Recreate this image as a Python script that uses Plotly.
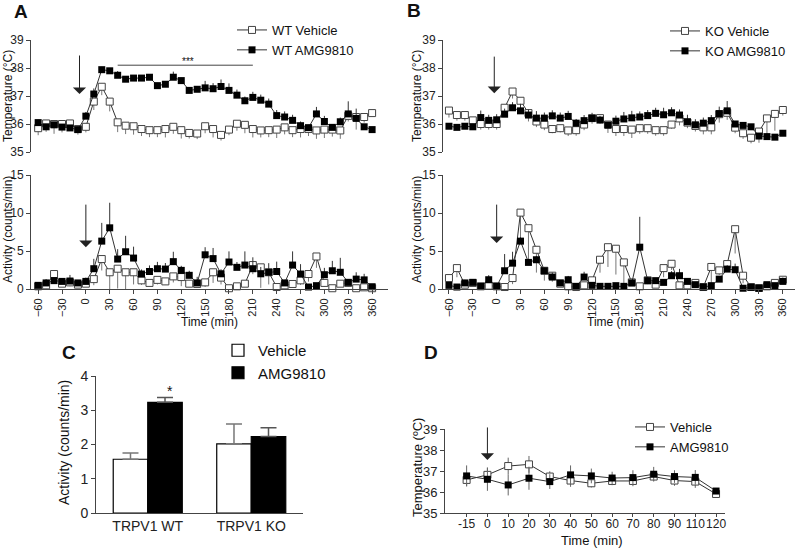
import plotly.graph_objects as go

# ---------------- DATA ----------------
time_min = [-60, -50, -40, -30, -20, -10, 0, 10, 20, 30, 40, 50, 60, 70, 80, 90, 100,
            110, 120, 130, 140, 150, 160, 170, 180, 190, 200, 210, 220, 230, 240, 250,
            260, 270, 280, 290, 300, 310, 320, 330, 340, 350, 360]
time_ticks = [-60, -30, 0, 30, 60, 90, 120, 150, 180, 210, 240, 270, 300, 330, 360]

# Panel A - WT temperature
wt_veh_temp = [35.85, 36.02, 36.0, 36.0, 36.02, 35.82, 35.9, 36.8, 37.33, 36.8, 36.06, 35.94, 35.92,
               35.82, 35.78, 35.78, 35.82, 35.9, 35.78, 35.68, 35.66, 35.92, 35.82, 35.61, 35.8,
               36.01, 35.97, 35.82, 35.77, 35.78, 35.8, 35.88, 35.78, 35.82, 35.82, 35.77, 35.8,
               35.8, 35.77, 36.29, 36.25, 36.25, 36.39]
wt_veh_temp_err = [0.25, 0.3, 0.35, 0.3, 0.25, 0.2, 0.2, 0.3, 0.3, 0.35, 0.35, 0.3, 0.3, 0.25, 0.25,
                   0.25, 0.3, 0.25, 0.3, 0.2, 0.2, 0.25, 0.3, 0.2, 0.2, 0.25, 0.3, 0.3, 0.25, 0.25,
                   0.3, 0.25, 0.25, 0.3, 0.25, 0.3, 0.3, 0.25, 0.3, 0.2, 0.45, 0.2, 0.1]
wt_amg_temp = [36.05, 35.9, 35.97, 35.89, 35.86, 35.8, 36.28, 37.07, 37.94, 37.9, 37.74, 37.6, 37.64,
               37.64, 37.67, 37.37, 37.42, 37.67, 37.55, 37.2, 37.24, 37.29, 37.26, 37.34, 37.2,
               37.03, 36.83, 36.95, 36.85, 36.71, 36.3, 36.25, 36.13, 35.94, 35.87, 36.36, 36.09,
               35.88, 36.08, 36.36, 36.2, 35.9, 35.8]
wt_amg_temp_err = [0.1, 0.1, 0.1, 0.1, 0.1, 0.1, 0.15, 0.2, 0.1, 0.1, 0.15, 0.1, 0.1, 0.1, 0.1, 0.1,
                   0.1, 0.2, 0.1, 0.1, 0.1, 0.25, 0.2, 0.25, 0.25, 0.2, 0.15, 0.2, 0.2, 0.2, 0.2,
                   0.2, 0.2, 0.15, 0.1, 0.25, 0.2, 0.1, 0.15, 0.45, 0.35, 0.1, 0.1]

# Panel A - WT activity
wt_veh_act = [0.35, 0.48, 1.97, 0.7, 0.87, 0.57, 0.7, 1.3, 3.94, 2.2, 2.67, 2.2, 2.2, 1.14, 0.8,
              1.2, 1.0, 1.66, 1.57, 0.7, 0.66, 0.87, 2.2, 1.5, 0.1, 0.35, 0.7, 3.15, 2.85, 2.2,
              0.26, 0.48, 0.66, 1.14, 1.97, 4.28, 0.8, 0.1, 0.7, 0.8, 0.1, 0.22, 0.1]
wt_veh_act_err = [0.3, 0.4, 1.2, 0.4, 0.5, 0.4, 0.4, 0.8, 1.5, 2.2, 2.6, 2.2, 1.6, 0.6, 0.4, 0.6,
                  0.4, 0.8, 1.2, 0.4, 0.4, 0.6, 1.4, 0.9, 0.1, 0.2, 0.4, 1.2, 2.7, 1.6, 0.2, 0.3,
                  0.4, 0.6, 1.0, 1.5, 0.5, 0.1, 0.4, 0.5, 0.1, 0.1, 0.1]
wt_amg_act = [0.48, 0.8, 1.1, 1.0, 1.05, 0.8, 1.0, 2.67, 6.3, 8.05, 3.94, 4.9, 4.07, 1.97, 2.3,
              2.67, 2.62, 3.6, 2.45, 1.8, 0.8, 4.5, 4.0, 2.0, 3.55, 2.85, 3.15, 2.67, 2.0, 2.2,
              2.3, 0.8, 3.15, 1.97, 0.26, 0.44, 1.88, 2.4, 2.2, 0.87, 1.3, 1.2, 0.3]
wt_amg_act_err = [0.1, 0.5, 0.4, 0.3, 0.8, 0.2, 0.5, 1.3, 2.4, 3.3, 1.3, 2.1, 1.5, 0.6, 0.8, 0.9,
                  0.8, 1.3, 0.6, 0.6, 0.8, 1.0, 1.4, 0.6, 1.4, 0.7, 1.8, 1.5, 0.9, 1.2, 1.3, 0.4,
                  1.8, 1.3, 0.2, 0.2, 0.9, 1.3, 1.9, 0.4, 0.9, 0.8, 0.1]

# Panel B - KO temperature
ko_veh_temp = [36.48, 36.32, 36.32, 36.13, 36.0, 36.0, 36.0, 36.58, 37.16, 36.83, 36.39, 36.09,
               35.98, 35.82, 35.85, 35.77, 35.78, 35.98, 36.21, 36.21, 35.98, 35.82, 35.82, 35.8,
               35.85, 35.85, 35.78, 35.78, 35.98, 36.2, 36.05, 35.93, 35.88, 35.88, 36.35, 36.4,
               35.87, 35.67, 35.51, 35.73, 36.2, 36.36, 36.5]
ko_veh_temp_err = [0.25, 0.2, 0.2, 0.15, 0.2, 0.2, 0.2, 0.25, 0.25, 0.3, 0.3, 0.2, 0.2, 0.15, 0.15,
                   0.2, 0.2, 0.2, 0.2, 0.2, 0.3, 0.25, 0.25, 0.3, 0.2, 0.2, 0.2, 0.2, 0.15, 0.25,
                   0.2, 0.2, 0.25, 0.25, 0.3, 0.25, 0.2, 0.2, 0.2, 0.4, 0.65, 0.6, 0.2]
ko_amg_temp = [35.92, 35.88, 35.92, 35.9, 36.23, 36.13, 36.15, 36.35, 36.58, 36.47, 36.32, 36.21,
               36.21, 36.29, 36.21, 36.27, 36.03, 36.12, 36.2, 36.14, 35.96, 36.1, 36.18, 36.22,
               36.25, 36.3, 36.38, 36.33, 36.4, 36.32, 36.08, 35.97, 36.03, 36.12, 36.37, 36.47,
               36.0, 35.95, 35.9, 35.57, 35.55, 35.53, 35.67]
ko_amg_temp_err = [0.1, 0.1, 0.1, 0.1, 0.25, 0.2, 0.2, 0.2, 0.2, 0.25, 0.2, 0.25, 0.2, 0.2, 0.2,
                   0.2, 0.15, 0.2, 0.2, 0.15, 0.1, 0.2, 0.25, 0.25, 0.2, 0.2, 0.2, 0.25, 0.2, 0.2,
                   0.25, 0.2, 0.2, 0.2, 0.25, 0.35, 0.1, 0.1, 0.1, 0.1, 0.1, 0.1, 0.1]

# Panel B - KO activity
ko_veh_act = [1.44, 2.75, 0.57, 0.8, 0.35, 0.44, 0.35, 0.26, 1.44, 10.05, 8.0, 5.16, 2.4, 1.75,
              0.7, 0.35, 0.26, 0.48, 1.14, 3.85, 5.5, 5.3, 3.5, 0.87, 0.35, 1.14, 0.57, 2.75,
              3.32, 0.48, 0.48, 0.8, 0.26, 2.9, 2.45, 3.28, 7.87, 1.75, 0.26, 0.13, 0.35, 0.8, 1.22]
ko_veh_act_err = [0.6, 1.2, 0.3, 0.4, 0.2, 0.2, 0.2, 0.1, 0.8, 4.0, 4.7, 3.0, 1.3, 0.8, 0.4, 0.2,
                  0.1, 0.3, 0.6, 1.7, 2.6, 3.4, 2.7, 0.4, 0.2, 0.5, 0.3, 1.2, 0.8, 0.3, 0.3, 0.4,
                  0.1, 2.9, 0.6, 0.6, 3.2, 1.0, 0.1, 0.1, 0.2, 0.4, 0.5]
ko_amg_act = [0.48, 0.26, 0.8, 0.87, 0.35, 1.22, 0.35, 2.4, 3.4, 6.3, 3.5, 3.85, 2.4, 1.57, 0.8,
              1.22, 0.35, 1.57, 0.48, 0.35, 0.35, 0.44, 0.35, 0.8, 5.5, 1.1, 1.1, 0.87, 1.75,
              1.75, 1.0, 0.57, 0.26, 0.44, 1.3, 2.62, 2.54, 0.1, 0.22, 0.1, 0.57, 0.44, 1.0]
ko_amg_act_err = [0.2, 0.2, 0.4, 0.3, 0.2, 0.6, 0.2, 2.2, 1.5, 0.5, 0.4, 0.5, 0.4, 0.6, 0.3, 0.5,
                  0.2, 0.7, 0.2, 0.2, 0.2, 0.2, 0.2, 0.3, 4.0, 0.5, 0.3, 0.3, 0.6, 0.9, 0.4, 0.2,
                  0.1, 0.3, 0.4, 0.5, 0.8, 0.1, 0.1, 0.1, 0.2, 0.3, 0.5]

# Panel C - mean activity
c_groups = ["TRPV1 WT", "TRPV1 KO"]
c_veh = [1.57, 2.02]
c_veh_err = [0.18, 0.58]
c_amg = [3.23, 2.23]
c_amg_err = [0.14, 0.26]

# Panel D - temperature, short time course
d_times = ["-15", "0", "10", "20", "30", "40", "50", "60", "70", "80", "90", "110", "120"]
d_veh = [36.59, 36.83, 37.25, 37.33, 36.75, 36.56, 36.43, 36.54, 36.54, 36.75, 36.56, 36.51, 35.92]
d_veh_err = [0.3, 0.35, 0.4, 0.4, 0.25, 0.3, 0.2, 0.2, 0.25, 0.2, 0.25, 0.3, 0.05]
d_amg = [36.78, 36.62, 36.35, 36.67, 36.51, 36.83, 36.78, 36.68, 36.7, 36.86, 36.75, 36.71, 36.06]
d_amg_err = [0.5, 0.55, 0.5, 0.55, 0.35, 0.45, 0.35, 0.3, 0.35, 0.35, 0.3, 0.35, 0.05]

# ---------------- FIGURE ----------------
W, H = 799, 548
FONT = "Liberation Sans, Arial, sans-serif"
LINE = "#333333"
AX = "#444444"


def px(p):
    return p / W


def py(p):
    return 1 - p / H


fig = go.Figure()


def add_series(x, y, err, filled, xa, ya, name, legend, showlegend, up):
    zeros = [0] * len(err)
    if filled:
        marker = dict(symbol="square", size=7, color="black", line=dict(color="black", width=0))
        ecol = "#333333"
    else:
        marker = dict(symbol="square", size=7, color="white", line=dict(color="#444444", width=1))
        ecol = "#777777"
    fig.add_trace(go.Scatter(
        x=x, y=y, mode="lines+markers", name=name, legend=legend, showlegend=showlegend,
        xaxis=xa, yaxis=ya, cliponaxis=False,
        line=dict(color=LINE, width=1), marker=marker,
        error_y=dict(type="data", symmetric=False,
                     array=err if up else zeros, arrayminus=zeros if up else err,
                     width=0, thickness=1, color=ecol),
    ))


# A
add_series(time_min, wt_veh_temp, wt_veh_temp_err, False, "x", "y", "WT Vehicle", "legend", True, False)
add_series(time_min, wt_amg_temp, wt_amg_temp_err, True, "x", "y", "WT AMG9810", "legend", True, True)
add_series(time_min, wt_veh_act, wt_veh_act_err, False, "x2", "y2", "WT Vehicle", "legend", False, False)
add_series(time_min, wt_amg_act, wt_amg_act_err, True, "x2", "y2", "WT AMG9810", "legend", False, True)
# B
add_series(time_min, ko_veh_temp, ko_veh_temp_err, False, "x3", "y3", "KO Vehicle", "legend2", True, False)
add_series(time_min, ko_amg_temp, ko_amg_temp_err, True, "x3", "y3", "KO AMG9810", "legend2", True, True)
add_series(time_min, ko_veh_act, ko_veh_act_err, False, "x4", "y4", "KO Vehicle", "legend2", False, False)
add_series(time_min, ko_amg_act, ko_amg_act_err, True, "x4", "y4", "KO AMG9810", "legend2", False, True)

# C
fig.add_trace(go.Bar(
    x=c_groups, y=c_veh, name="Vehicle", legend="legend3", xaxis="x5", yaxis="y5",
    marker=dict(color="white", line=dict(color="black", width=1.2)),
    error_y=dict(type="data", symmetric=False, array=c_veh_err, arrayminus=[0, 0],
                 width=8, thickness=1.5, color="#777777"),
))
fig.add_trace(go.Bar(
    x=c_groups, y=c_amg, name="AMG9810", legend="legend3", xaxis="x5", yaxis="y5",
    marker=dict(color="black", line=dict(color="black", width=1.2)),
    error_y=dict(type="data", symmetric=False, array=c_amg_err, arrayminus=[0, 0],
                 width=8, thickness=1.5, color="#555555"),
))

# D
for yv, ev, filled, nm in [(d_veh, d_veh_err, False, "Vehicle"), (d_amg, d_amg_err, True, "AMG9810")]:
    if filled:
        marker = dict(symbol="square", size=7, color="black", line=dict(color="black", width=0))
    else:
        marker = dict(symbol="square", size=7, color="white", line=dict(color="#444444", width=1))
    fig.add_trace(go.Scatter(
        x=d_times, y=yv, mode="lines+markers", name=nm, legend="legend4",
        xaxis="x6", yaxis="y6", cliponaxis=False,
        line=dict(color=LINE, width=1), marker=marker,
        error_y=dict(type="data", array=ev, width=0, thickness=1, color="#666666"),
    ))

axis_common = dict(showline=True, linecolor=AX, linewidth=1, ticks="outside", ticklen=4,
                   tickwidth=1, tickcolor=AX, showgrid=False, zeroline=False, automargin=False,
                   tickfont=dict(size=12, color="#222222", family=FONT))

xA = [px(31), px(388)]
xB = [px(443), px(795)]
yT = [py(152), py(40)]
yAct = [py(289), py(175)]
rA = [-69, 380]
rB = [-67.5, 375.3]

layout_axes = dict(
    xaxis=dict(axis_common, domain=xA, range=rA, visible=False, anchor="y"),
    yaxis=dict(axis_common, domain=yT, range=[35, 39], tickvals=[35, 36, 37, 38, 39], anchor="x"),
    xaxis2=dict(axis_common, domain=xA, range=rA, anchor="y2", tickvals=time_ticks, tickangle=-90,
                tickfont=dict(size=11, color="#222222", family=FONT)),
    yaxis2=dict(axis_common, domain=yAct, range=[0, 15], tickvals=[0, 5, 10, 15], anchor="x2"),
    xaxis3=dict(axis_common, domain=xB, range=rB, visible=False, anchor="y3"),
    yaxis3=dict(axis_common, domain=yT, range=[35, 39], tickvals=[35, 36, 37, 38, 39], anchor="x3"),
    xaxis4=dict(axis_common, domain=xB, range=rB, anchor="y4", tickvals=time_ticks, tickangle=-90,
                tickfont=dict(size=11, color="#222222", family=FONT)),
    yaxis4=dict(axis_common, domain=yAct, range=[0, 15], tickvals=[0, 5, 10, 15], anchor="x4"),
    xaxis5=dict(axis_common, domain=[px(96), px(303)], type="category", anchor="y5", ticks="",
                tickfont=dict(size=14, color="#222222", family=FONT)),
    yaxis5=dict(axis_common, domain=[py(513), py(376)], range=[0, 4], dtick=1, anchor="x5",
                tickfont=dict(size=14, color="#222222", family=FONT)),
    xaxis6=dict(axis_common, domain=[px(445), px(725)], type="category", range=[-1.04, 12.43],
                anchor="y6", tickangle=0, ticklen=3, ticklabelstandoff=-4,
                tickfont=dict(size=12, color="#222222", family=FONT)),
    yaxis6=dict(axis_common, domain=[py(513.3), py(429.3)], range=[35, 39],
                tickvals=[35, 36, 37, 38, 39], anchor="x6",
                tickfont=dict(size=13, color="#222222", family=FONT)),
)

leg_common = dict(xanchor="left", yanchor="top", bgcolor="rgba(0,0,0,0)", itemwidth=30,
                  tracegroupgap=0, font=dict(size=13, color="#111111", family=FONT))

annotations = []


def text(t, x, y, size=12, bold=False, angle=0, xanchor="center"):
    annotations.append(dict(text=("<b>%s</b>" % t) if bold else t, x=px(x), y=py(y),
                            xref="paper", yref="paper", showarrow=False, textangle=angle,
                            xanchor=xanchor, yanchor="middle",
                            font=dict(size=size, color="#111111", family=FONT)))


text("A", 21, 11, 19, True)
text("B", 414, 10, 19, True)
text("C", 69, 352, 19, True)
text("D", 431, 352, 19, True)
text("Temperature (°C)", 8, 96, 12, angle=-90)
text("Activity (counts/min)", 8, 230, 12, angle=-90)
text("Temperature (°C)", 417, 96, 12, angle=-90)
text("Activity (counts/min)", 417, 230, 12, angle=-90)
text("Time (min)", 209, 322, 12)
text("Time (min)", 615, 322, 12)
text("Activity (counts/min)", 64, 443, 14, angle=-90)
text("Temperature (ºC)", 417, 468, 13, angle=-90)
text("Time (min)", 592, 540, 13)


def arrow(xr, yr, x, ytip, ytail):
    annotations.append(dict(x=x, y=ytip, ax=x, ay=ytail, xref=xr, yref=yr, axref=xr, ayref=yr,
                            showarrow=True, arrowhead=1, arrowsize=2.2, arrowwidth=1,
                            arrowcolor="#222222", standoff=0, text=""))


arrow("x", "y", -8, 37.07, 38.5)
arrow("x2", "y2", 0, 5.5, 11.3)
arrow("x3", "y3", -3, 37.1, 38.46)
arrow("x4", "y4", 0, 6.05, 11.3)
arrow("x6", "y6", 1, 37.54, 39.16)

# significance marks
annotations.append(dict(text="***", x=128, y=38.25, xref="x", yref="y", showarrow=False,
                        font=dict(size=10, color="#111111", family=FONT)))
annotations.append(dict(text="*", x=px(165), y=3.55, xref="paper", yref="y5", showarrow=False,
                        font=dict(size=14, color="#111111", family=FONT)))

shapes = [dict(type="line", x0=40, x1=210, y0=38.1, y1=38.1, xref="x", yref="y",
               line=dict(color="#444444", width=1))]

fig.update_layout(
    width=W, height=H, margin=dict(l=0, r=0, t=0, b=0, autoexpand=False),
    paper_bgcolor="white", plot_bgcolor="white",
    font=dict(family=FONT, size=12, color="#111111"),
    barmode="group", bargap=0.333, bargroupgap=0,
    legend=dict(leg_common, x=px(232), y=py(15)),
    legend2=dict(leg_common, x=px(665), y=py(16)),
    legend3=dict(leg_common, x=px(218), y=py(334), font=dict(size=15, color="#111111", family=FONT)),
    legend4=dict(leg_common, x=px(630), y=py(412)),
    annotations=annotations, shapes=shapes,
    **layout_axes,
)

fig.write_html("out.html", config={"displayModeBar": False},
               post_script="document.body.style.margin='0';")
